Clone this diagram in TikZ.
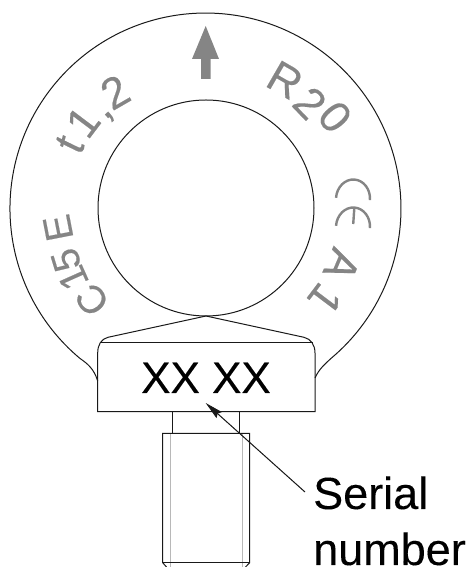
\documentclass[tikz,border=0pt]{standalone}
\usepackage{fontspec}
\setmainfont{Liberation Sans}
\newfontfamily\heavy[FakeBold=0.3]{Liberation Sans}
\newfontfamily\semi[FakeBold=0.15]{Liberation Sans}
\usetikzlibrary{arrows.meta}
\definecolor{stampgray}{gray}{0.52}
\definecolor{ink}{gray}{0.1}
\tikzset{
  outline/.style={draw=ink,line width=1pt},
  thread/.style={draw=black!28,line width=0.8pt},
  stamp/.style={inner sep=0pt,text=stampgray,font=\heavy\fontsize{44}{44}\selectfont},
  smallstamp/.style={inner sep=0pt,text=stampgray,font=\heavy\fontsize{39}{39}\selectfont},
  callout/.style={inner sep=0pt,anchor=base west,font=\semi\fontsize{45}{45}\selectfont},
  cemark/.style={draw=stampgray,line width=2.4pt}
}
\begin{document}
\begin{tikzpicture}[x=1pt,y=1pt]
\useasboundingbox (0,0) rectangle (475,567);
% ring
\draw[outline] (97.7,186) .. controls (94,198) and (88,203) .. (79.8,208.7)
  arc[start angle=230,end angle=-50,radius=195.5]
  .. controls (325,203) and (319,198) .. (315,189);
\draw[outline] (206,359) circle[radius=108];
% head
\draw[outline] (206,251) -- (108,229.7) .. controls (101,228) and (97.7,222) .. (97.7,214)
  -- (97.7,155.3) -- (315,155.3) -- (315,214)
  .. controls (315,222) and (311,228) .. (304,229.7) -- cycle;
\draw[outline] (100,224.7) -- (312.5,224.7);
% neck
\draw[outline] (172.3,155.3) -- (172.3,133.7);
\draw[outline] (239.3,155.3) -- (239.3,133.7);
% shank
\draw[thread] (170.3,133) -- (170.3,0);
\draw[thread] (242.3,133) -- (242.3,0);
\draw[outline] (166.5,0) -- (162.7,4.3) -- (162.7,133.7) -- (249.7,133.7) -- (249.7,4.3) -- (245.5,0);
\draw[outline] (162.7,4.3) -- (249.7,4.3);
% lifting arrow
\fill[stampgray] (205.7,541) -- (219,508) -- (210.5,508) -- (210.5,488) -- (201,488) -- (201,508) -- (192,508) -- cycle;
% ring stamping
\node[smallstamp,rotate=129] (c1) at (92,267) {C};
\node[smallstamp,rotate=114] (c2) at (73,289) {1};
\node[smallstamp,rotate=107] (c3) at (66,307) {5};
\node[smallstamp,rotate=101] (c4) at (58,339) {E};
\node[stamp,rotate=75] (t1) at (70,422) {\itshape t};
\node[stamp,rotate=53] (t2) at (83,445) {1};
\node[stamp,rotate=42] (t3) at (110,450) {,};
\node[stamp,rotate=30] (t4) at (115,475) {2};
\node[stamp,rotate=-30] (r1) at (285,487) {R};
\node[stamp,rotate=-46] (r2) at (310,464) {2};
\node[stamp,rotate=-50] (r3) at (335,450) {0};
\node[stamp,rotate=-113] (a1) at (342,302) {A};
\node[stamp,rotate=-127] (a2) at (325,268) {1};
% CE certification mark, a drawn symbol with round letter forms
\begin{scope}[rotate around={-4:(353,368)}]
\draw[cemark] (336,368) arc[start angle=180,end angle=0,x radius=17,y radius=19.5];
\end{scope}
\begin{scope}[rotate around={-4:(353,340)}]
\draw[cemark] (336,340) arc[start angle=180,end angle=0,x radius=17,y radius=19.5];
\draw[cemark] (353,359) -- (353,343);
\end{scope}
% labels
\node[inner sep=0pt,anchor=base,font=\semi\fontsize{44}{44}\selectfont] (sn) at (206,174) {XX XX};
\node[callout] (serial) at (313,58) {Serial};
\node[callout] (number) at (313,2) {number};
\coordinate (tipmark) at (205.7,164);
\coordinate (tail) at (305,75);
\draw[-{Stealth[length=18pt,width=8pt,inset=2pt]},draw=ink,fill=black,line width=1pt] (tail) -- (tipmark);
\end{tikzpicture}
\end{document}
